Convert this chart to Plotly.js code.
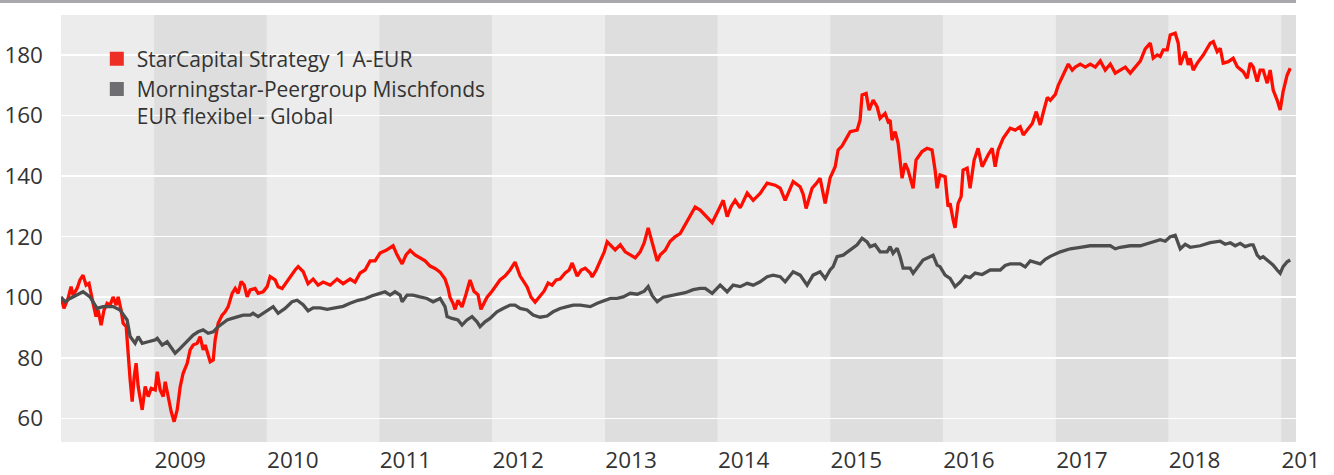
<!DOCTYPE html>
<html>
<head>
<meta charset="utf-8">
<script src="https://cdn.plot.ly/plotly-3.0.1.min.js"></script>
<style>
  html, body { margin: 0; padding: 0; background: #ffffff; }
  #wrap { position: relative; width: 1334px; height: 475px; overflow: hidden; }
  #topline { position: absolute; left: 0; top: 0; width: 1296px; height: 3px; background: #a9a9ad; }
  #chart { position: absolute; left: 0; top: 0; width: 1318px; height: 475px; overflow: hidden; }
</style>
</head>
<body>
<div id="wrap">
  <div id="chart"></div>
  <div id="topline"></div>
</div>
<script>
// ---- Data (dates as decimal years, values indexed to 100) ----
const seriesNames = ["StarCapital Strategy 1 A-EUR", "Morningstar-Peergroup Mischfonds<br>EUR flexibel - Global"];

const redT = [2008.175,2008.201,2008.237,2008.264,2008.281,2008.317,2008.343,2008.370,2008.397,2008.423,2008.459,2008.485,2008.503,2008.530,2008.556,2008.583,2008.610,2008.636,2008.663,2008.681,2008.707,2008.725,2008.752,2008.769,2008.787,2008.805,2008.823,2008.840,2008.858,2008.894,2008.920,2008.947,2008.973,2009.009,2009.027,2009.053,2009.080,2009.098,2009.124,2009.151,2009.177,2009.204,2009.231,2009.257,2009.293,2009.319,2009.346,2009.382,2009.408,2009.435,2009.453,2009.479,2009.497,2009.524,2009.541,2009.568,2009.603,2009.630,2009.657,2009.692,2009.719,2009.745,2009.772,2009.799,2009.825,2009.852,2009.896,2009.923,2009.967,2010.003,2010.029,2010.074,2010.100,2010.136,2010.180,2010.224,2010.251,2010.278,2010.322,2010.366,2010.411,2010.455,2010.500,2010.562,2010.624,2010.677,2010.739,2010.783,2010.828,2010.872,2010.917,2010.961,2011.005,2011.059,2011.121,2011.156,2011.201,2011.236,2011.272,2011.316,2011.360,2011.405,2011.449,2011.493,2011.538,2011.582,2011.609,2011.626,2011.653,2011.671,2011.697,2011.733,2011.768,2011.804,2011.839,2011.875,2011.901,2011.928,2011.955,2011.999,2012.035,2012.070,2012.114,2012.159,2012.203,2012.248,2012.283,2012.310,2012.345,2012.381,2012.425,2012.460,2012.496,2012.531,2012.567,2012.602,2012.647,2012.682,2012.709,2012.753,2012.789,2012.824,2012.869,2012.886,2012.922,2012.957,2012.993,2013.019,2013.055,2013.090,2013.135,2013.179,2013.224,2013.268,2013.312,2013.348,2013.383,2013.410,2013.437,2013.463,2013.490,2013.534,2013.578,2013.623,2013.667,2013.712,2013.756,2013.800,2013.845,2013.889,2013.933,2013.951,2013.996,2014.049,2014.084,2014.120,2014.155,2014.200,2014.262,2014.315,2014.377,2014.439,2014.510,2014.555,2014.599,2014.634,2014.670,2014.732,2014.759,2014.785,2014.838,2014.874,2014.909,2014.954,2014.998,2015.043,2015.069,2015.105,2015.131,2015.176,2015.238,2015.264,2015.282,2015.318,2015.344,2015.380,2015.415,2015.442,2015.486,2015.513,2015.531,2015.548,2015.575,2015.602,2015.637,2015.664,2015.690,2015.735,2015.761,2015.814,2015.859,2015.903,2015.930,2015.948,2015.974,2016.019,2016.045,2016.063,2016.090,2016.107,2016.134,2016.161,2016.178,2016.214,2016.240,2016.276,2016.311,2016.347,2016.400,2016.436,2016.462,2016.489,2016.533,2016.595,2016.640,2016.684,2016.711,2016.746,2016.791,2016.826,2016.861,2016.888,2016.924,2016.950,2016.995,2017.021,2017.057,2017.083,2017.110,2017.145,2017.172,2017.216,2017.261,2017.305,2017.350,2017.394,2017.438,2017.483,2017.527,2017.571,2017.616,2017.660,2017.704,2017.749,2017.793,2017.838,2017.864,2017.900,2017.926,2017.953,2017.988,2018.015,2018.059,2018.086,2018.104,2018.130,2018.148,2018.175,2018.192,2018.219,2018.255,2018.308,2018.370,2018.397,2018.432,2018.459,2018.485,2018.530,2018.574,2018.610,2018.663,2018.698,2018.725,2018.751,2018.787,2018.813,2018.840,2018.876,2018.902,2018.929,2018.964,2018.991,2019.017,2019.053,2019.080];
const redV = [100.1,96.3,99.6,103.5,100.7,102.9,105.7,107.3,104,104.6,98,93.6,95.8,90.8,95.8,98,97.4,100.1,97.4,100.1,95.8,91.4,90.3,80.4,72.7,65.5,73.8,78.2,70.5,62.8,70.5,67.2,69.9,69.4,75.4,69.4,67.2,72.1,67.2,62.2,58.9,62.8,70.5,74.9,78.2,82.6,84.2,84.8,87,82.6,84.2,80.4,78.7,79.3,85.9,91.4,94.1,95.2,96.9,101.3,102.9,101.3,105.2,104,100.1,102.4,102.9,101.3,101.8,103.5,106.8,105.7,103.5,102.9,105.2,107.9,109,110.1,108.5,104.5,106,104,105,104,106,104.5,106,105,108,109,112,112,114.6,115.5,117,114,111,114,115.5,114,113,112,110.3,109.5,108.3,106,103,100,98,96,99,96.8,101,105.7,102,100.8,96,98,100,102,104,105.7,107,109,111.6,107,105,103.4,100,98.4,100.4,102,104.7,104,105.7,106,108,109,111.3,107,109,109.6,108,106.7,109,112.3,115,118.3,117,115.6,117.3,115,114,113,115,118,122.9,119,116,112,114,115.5,118.5,120,121,124,127,129.8,128.8,127,125.5,124.6,128,132,126.6,130,132,129.5,134.4,132,134.3,137.7,137,136,132,135,138.2,136.5,134,129.3,136,137.5,139.3,131,139.4,143.1,148.6,150,151.9,154.7,155.2,158.5,166.8,167.3,161.8,165.1,162.9,159.1,160.7,158,158.5,151.9,154.7,150.8,139.3,144.2,142,136,145.3,148.1,149.2,148.6,142,136,140.4,139.8,129.9,131,125.5,122.9,131,133.2,142,142.6,136,145.3,149.2,143.1,147,149.2,143.1,148.6,152.5,155.8,155.2,156.3,153.6,155.2,157.4,161.3,156.9,161,166,165,167,170,173,175,177,175,176,177,176,177,176,178,175,177,174,175,176,174,176,178,182,183.9,179,180,179.5,181.7,181.7,186.6,187.2,183.9,176.7,179.4,181.1,176.7,178.9,175,177.3,180,183.9,184.4,181.1,182.2,177.3,177.8,178.9,176.1,174.5,172.3,177.3,176.1,171.2,175,175,170.7,175,168.4,165.1,161.8,167.9,173.4,175.6];

const grayT = [2008.175,2008.210,2008.255,2008.317,2008.370,2008.432,2008.494,2008.547,2008.636,2008.698,2008.760,2008.787,2008.831,2008.858,2008.894,2008.947,2009.009,2009.027,2009.071,2009.115,2009.160,2009.186,2009.231,2009.293,2009.346,2009.390,2009.435,2009.479,2009.524,2009.568,2009.603,2009.648,2009.692,2009.736,2009.790,2009.852,2009.878,2009.923,2009.967,2010.012,2010.056,2010.100,2010.162,2010.224,2010.269,2010.322,2010.366,2010.411,2010.473,2010.535,2010.606,2010.677,2010.739,2010.810,2010.872,2010.934,2011.005,2011.050,2011.094,2011.138,2011.183,2011.201,2011.245,2011.298,2011.360,2011.422,2011.476,2011.538,2011.582,2011.600,2011.644,2011.697,2011.733,2011.777,2011.822,2011.866,2011.893,2011.937,2011.981,2012.043,2012.097,2012.159,2012.203,2012.248,2012.310,2012.363,2012.425,2012.487,2012.540,2012.602,2012.665,2012.718,2012.780,2012.869,2012.931,2012.984,2013.046,2013.108,2013.161,2013.224,2013.286,2013.348,2013.383,2013.419,2013.463,2013.516,2013.578,2013.641,2013.712,2013.783,2013.845,2013.889,2013.951,2014.022,2014.084,2014.137,2014.200,2014.262,2014.315,2014.377,2014.439,2014.492,2014.555,2014.599,2014.670,2014.732,2014.794,2014.847,2014.909,2014.954,2014.998,2015.025,2015.060,2015.114,2015.176,2015.238,2015.282,2015.326,2015.353,2015.397,2015.442,2015.504,2015.531,2015.557,2015.593,2015.619,2015.646,2015.708,2015.735,2015.770,2015.823,2015.885,2015.912,2015.948,2015.974,2016.019,2016.063,2016.107,2016.152,2016.196,2016.240,2016.285,2016.347,2016.418,2016.507,2016.551,2016.595,2016.684,2016.728,2016.773,2016.861,2016.906,2016.950,2017.039,2017.128,2017.216,2017.305,2017.394,2017.483,2017.527,2017.571,2017.660,2017.749,2017.838,2017.926,2017.971,2018.015,2018.059,2018.086,2018.104,2018.148,2018.192,2018.281,2018.370,2018.459,2018.503,2018.548,2018.592,2018.636,2018.680,2018.725,2018.751,2018.787,2018.813,2018.840,2018.876,2018.902,2018.929,2018.964,2018.991,2019.017,2019.053,2019.080];
const grayV = [100.1,98.5,99.6,100.7,101.8,100.1,96.3,96.9,96.9,95.8,92.5,87,84.8,87,84.8,85.3,85.9,86.4,84.2,85.3,83.1,81.5,83.1,85.3,87.5,88.6,89.2,88.1,88.6,90.3,91.4,92.5,93,93.6,94.1,94.1,94.7,93.6,94.7,95.8,96.9,94.7,96.3,98.5,99,97.5,95.5,96.5,96.5,96,96.5,97,98,99,99.5,100.5,101.3,101.8,100.7,101.8,100.7,98.5,100.7,100.7,100.1,99.6,98.5,99.6,96.9,93.6,93,92.5,90.8,92.5,93.6,91.9,90.3,91.9,93,95.2,96.3,97.4,97.4,96.3,95.8,94.1,93.4,93.8,95.2,96.3,96.9,97.4,97.4,96.9,98,98.8,99.6,99.6,100.1,101.3,101,102,103.5,100.5,98.5,100,100.5,101,101.5,102.5,102.9,102.9,101.3,104,101.8,104,103.5,104.6,104,105.1,106.8,107.3,106.8,105.1,108.4,107.3,104,107.3,108.4,106.2,109,110.1,113.4,113.9,115.6,117.3,119.5,118.3,116.7,117.3,115,115,116.7,114.5,116.2,113.4,109.6,109.6,107.9,109.6,112.3,113.4,113.9,110.6,110.1,107.3,106.2,103.5,105,107,106.5,108,107.5,109,109,110.5,111,111,110,112,111,112.5,113.5,115,116,116.5,117,117,117,116,116.5,117,117,118,119,118.5,120,120.5,118,116,117.5,116.5,117,118,118.5,117.5,118,117,117.8,116.7,117.3,117.3,113.9,112.9,113.4,112.3,111.7,110.6,109,107.9,110.1,111.7,112.3];

const years = [2008,2009,2010,2011,2012,2013,2014,2015,2016,2017,2018,2019];
const yTicks = [60,80,100,120,140,160,180];

// ---- helpers ----
function toDate(t){
  const y = Math.floor(t);
  const s = Date.UTC(y,0,1), e = Date.UTC(y+1,0,1);
  return new Date(s + (t - y) * (e - s)).toISOString().slice(0,19).replace('T',' ');
}

const FONT = '"Open Sans", "Noto Sans", sans-serif';
const RED = '#ff0d00', GRAY = '#4d4d4d';

const traces = [
  { x: redT.map(toDate), y: redV, type: 'scatter', mode: 'lines',
    line: { color: RED, width: 3.3 }, showlegend: false, hoverinfo: 'x+y', name: seriesNames[0] },
  { x: grayT.map(toDate), y: grayV, type: 'scatter', mode: 'lines',
    line: { color: GRAY, width: 3.3 }, showlegend: false, hoverinfo: 'x+y', name: seriesNames[1] },
  // legend entries (square swatches)
  { x: [null], y: [null], type: 'scatter', mode: 'markers', name: seriesNames[0],
    marker: { symbol: 'square', size: 14, color: '#ee2e24' }, showlegend: true },
  { x: [null], y: [null], type: 'scatter', mode: 'markers', name: seriesNames[1],
    marker: { symbol: 'square', size: 14, color: '#6d6d72' }, showlegend: true }
];

// alternating year bands
const shapes = years.map((y) => ({
  type: 'rect', xref: 'x', yref: 'paper', layer: 'below',
  x0: y + '-01-01', x1: (y + 1) + '-01-01', y0: 0, y1: 1,
  fillcolor: (y % 2 === 1) ? '#dedede' : '#ececec', line: { width: 0 }
}));

const layout = {
  width: 1318, height: 475,
  margin: { l: 61, r: 22, t: 15, b: 33, pad: 0 },
  paper_bgcolor: '#ffffff', plot_bgcolor: '#ececec',
  font: { family: FONT, size: 22, color: '#333333' },
  showlegend: true,
  legend: {
    x: 0.029, y: 0.945, xanchor: 'left', yanchor: 'top',
    valign: 'top',
    bgcolor: 'rgba(0,0,0,0)', borderwidth: 0,
    font: { family: FONT, size: 21, color: '#333333' },
    tracegroupgap: 0, itemwidth: 30
  },
  xaxis: {
    type: 'date',
    range: ['2008-03-05', '2019-02-18'],
    tickmode: 'array',
    tickvals: years.slice(1).map(y => y + '-01-01'),
    ticktext: years.slice(1).map(String),
    ticklabelshift: 26,
    ticklabelstandoff: 2,
    ticklabeloverflow: 'allow',
    ticks: '', showgrid: false, zeroline: false, showline: false,
    tickfont: { family: FONT, size: 22.5, color: '#333333' }
  },
  yaxis: {
    range: [52.2, 193.2],
    tickmode: 'array', tickvals: yTicks, ticktext: yTicks.map(String),
    showgrid: true, gridcolor: '#ffffff', gridwidth: 1.5,
    zeroline: false, showline: false, ticks: '',
    ticklabelstandoff: 17,
    tickfont: { family: FONT, size: 22.5, color: '#333333' }
  },
  shapes: shapes
};

Plotly.newPlot('chart', traces, layout, { staticPlot: true, displayModeBar: false });
</script>
</body>
</html>
